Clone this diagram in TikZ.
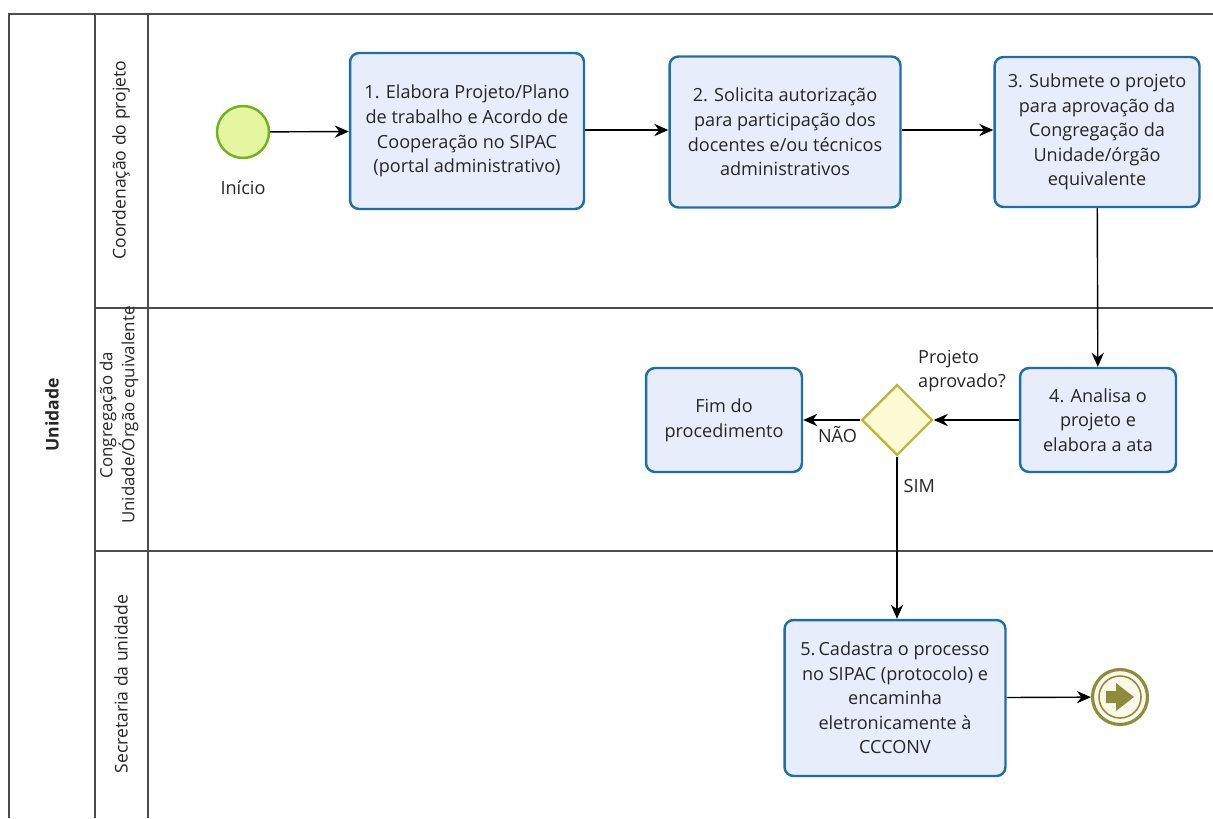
\documentclass[tikz,border=0pt]{standalone}
\usepackage{fontspec}
\setmainfont{Open Sans}
\usetikzlibrary{shapes.geometric,arrows.meta}

\definecolor{taskfill}{HTML}{E7EDFB}
\definecolor{taskline}{HTML}{1F6EA6}
\definecolor{startfill}{HTML}{E4F7A0}
\definecolor{startline}{HTML}{74B21C}
\definecolor{gatefill}{HTML}{FBFAD2}
\definecolor{gateline}{HTML}{B9B841}
\definecolor{endline}{HTML}{8E8B3D}
\definecolor{endfill}{HTML}{FBF8EA}

\tikzset{
  txt/.style={font=\fontsize{10.3}{14}\selectfont,text=black!85},
  task/.style={txt,draw=taskline,fill=taskfill,line width=1.4pt,rounded corners=0.18cm,align=center,inner sep=2pt},
  gateway/.style={diamond,draw=gateline,fill=gatefill,line width=1.4pt,minimum width=1.42cm,minimum height=1.42cm,inner sep=0pt},
  flow/.style={-{Stealth[length=8pt,width=7pt]},line width=0.8pt},
  lane/.style={draw=black!70,line width=0.8pt},
  lanelabel/.style={txt,rotate=90,align=center,font=\fontsize{10}{12.6}\selectfont}
}

\begin{document}
\begin{tikzpicture}[x=0.02cm,y=-0.02cm]
\useasboundingbox (0,0) rectangle (1213,818);
% pool and lanes
\draw[lane] (1213,14) -- (9,14) -- (9,818);
\draw[lane] (95,14) -- (95,818);
\draw[lane] (148,14) -- (148,818);
\draw[lane] (95,308) -- (1213,308);
\draw[lane] (95,551) -- (1213,551);
\node[lanelabel,font=\fontsize{10}{12.6}\bfseries] (pool) at (52,415) {Unidade};
\node[lanelabel] (lane1) at (121,160) {Coordenação do projeto};
\node[lanelabel,font=\fontsize{9.6}{12.4}\selectfont] (lane2) at (119,415) {Congregação da\\Unidade/Órgão equivalente};
\node[lanelabel] (lane3) at (121,684) {Secretaria da unidade};

% events
\node[circle,draw=startline,fill=startfill,line width=1.4pt,minimum size=1.04cm] (start) at (243,132) {};
\node[txt] (startlbl) at (243,188) {Início};
\node[circle,draw=endline,fill=endfill,line width=1.8pt,minimum size=1.1cm] (end) at (1120,697) {};
\draw[endline,line width=0.9pt] (end.center) circle (0.42cm);
\fill[endline] (1106,691) -- (1116,691) -- (1116,683) -- (1134,697) -- (1116,711) -- (1116,703) -- (1106,703) -- cycle;

% tasks
\node[task,minimum width=4.68cm,minimum height=3.12cm] (t1) at (467,131) {1. Elabora Projeto/Plano\\de trabalho e Acordo de\\Cooperação no SIPAC\\(portal administrativo)};
\node[task,minimum width=4.62cm,minimum height=3.02cm] (t2) at (785,132) {2. Solicita autorização\\para participação dos\\docentes e/ou técnicos\\administrativos};
\node[task,minimum width=4.10cm,minimum height=3.00cm] (t3) at (1097,132) {3. Submete o projeto\\para aprovação da\\Congregação da\\Unidade/órgão\\equivalente};
\node[task,minimum width=3.12cm,minimum height=2.08cm] (t4) at (1098,420) {4. Analisa o\\projeto e\\elabora a ata};
\node[task,minimum width=3.12cm,minimum height=2.08cm] (fim) at (724,420) {Fim do\\procedimento};
\node[task,minimum width=4.42cm,minimum height=3.12cm] (t5) at (895,698) {5.\,Cadastra o processo\\no SIPAC (protocolo) e\\encaminha\\eletronicamente à\\CCCONV};

% gateway
\node[gateway] (gw) at (897,420) {};
\node[txt,align=left,anchor=west] (gwlbl) at (912,371) {Projeto\\aprovado?};

% flows
\draw[flow] (start) -- (t1);
\draw[flow] (t1.east |- 0,130) -- (t2.west |- 0,130);
\draw[flow] (t2.east |- 0,130) -- (t3.west |- 0,130);
\draw[flow] (t3) -- (t4);
\draw[flow] (t4) -- (gw);
\draw[flow] (gw) -- node[txt,below,pos=0.4] {NÃO} (fim);
\draw[flow] (gw) -- node[txt,right,pos=0.18] {SIM} (t5.north -| gw);
\draw[flow] (t5) -- (end);
\end{tikzpicture}
\end{document}
